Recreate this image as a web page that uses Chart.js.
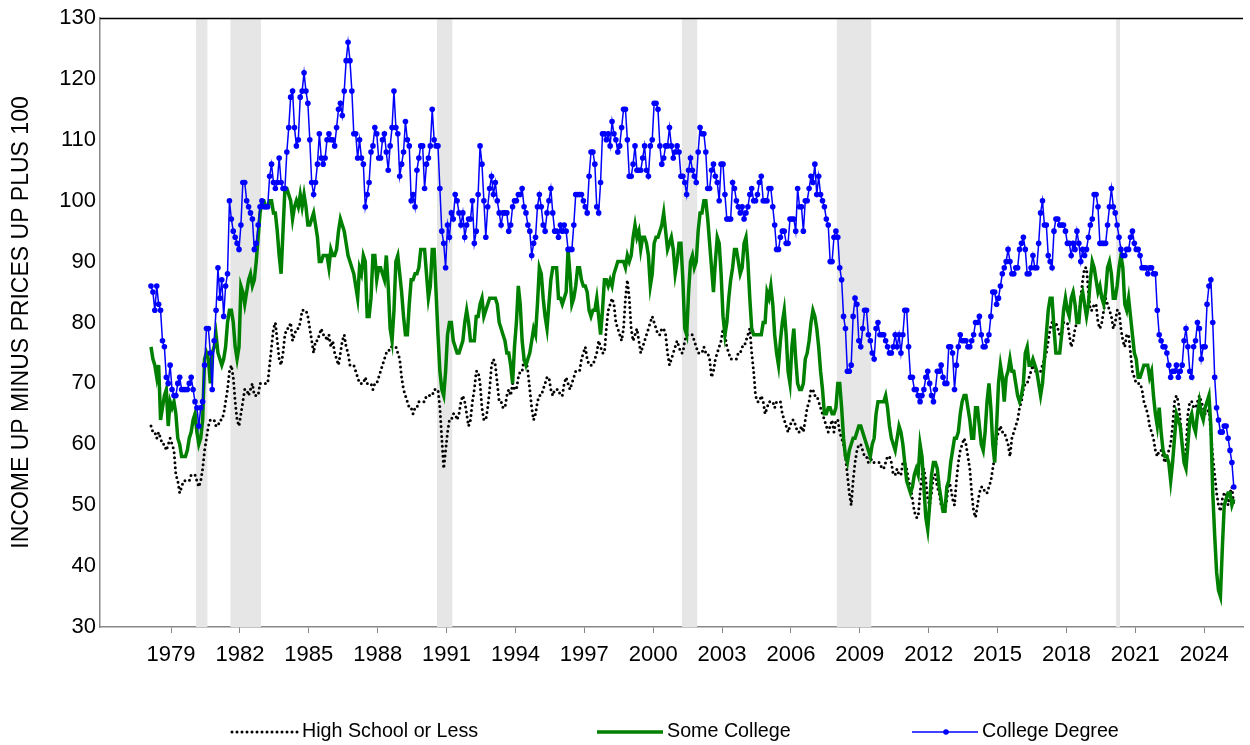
<!DOCTYPE html>
<html>
<head>
<meta charset="utf-8">
<script src="https://cdn.jsdelivr.net/npm/chart.js@4.4.1/dist/chart.umd.min.js"></script>
<style>
  html, body { margin: 0; padding: 0; background: #fff; }
  #wrap { width: 1250px; height: 745px; position: relative; }
</style>
</head>
<body>
<div id="wrap"><canvas id="chart"></canvas></div>
<script>
// monthly readings, one row per year, starting January 1978
const startYear = 1978;

const highSchool = [
  63, 62, 62, 61, 62, 61, 60, 60, 59, 60, 61, 60,
  59, 55, 54, 52, 53, 54, 54, 54, 54, 55, 55, 55,
  54, 53, 54, 56, 59, 61, 63, 64, 64, 64, 63, 63,
  64, 64, 65, 67, 69, 72, 73, 71, 67, 64, 63, 65,
  67, 69, 69, 68, 69, 70, 68, 68, 68, 70, 70, 70,
  70, 70, 73, 76, 79, 80, 77, 74, 73, 75, 78, 79,
  79, 80, 77, 78, 79, 79, 80, 82, 82, 82, 81, 79,
  77, 75, 77, 77, 78, 79, 78, 78, 77, 78, 76, 77,
  75, 74, 73, 75, 77, 78, 76, 75, 73, 73, 73, 72,
  71, 70, 70, 70, 71, 70, 70, 70, 69, 70, 70, 71,
  72, 73, 74, 75, 75, 76, 76, 76, 76, 75, 74, 71,
  69, 68, 67, 66, 66, 65, 66, 66, 67, 67, 67, 67,
  68, 68, 68, 68, 69, 69, 69, 66, 61, 56, 59, 62,
  64, 64, 65, 65, 64, 65, 67, 68, 67, 65, 63, 64,
  67, 69, 72, 72, 70, 66, 64, 64, 66, 69, 73, 74,
  73, 70, 67, 67, 66, 66, 68, 69, 68, 70, 69, 69,
  71, 72, 72, 74, 74, 72, 69, 66, 64, 65, 67, 68,
  68, 69, 70, 71, 71, 69, 68, 69, 69, 69, 68, 68,
  70, 71, 70, 69, 70, 71, 72, 72, 72, 74, 75, 76,
  74, 73, 73, 73, 74, 75, 77, 76, 75, 75, 79, 82,
  83, 84, 83, 80, 79, 78, 77, 79, 84, 87, 84, 79,
  77, 78, 79, 77, 75, 76, 77, 78, 79, 80, 81, 80,
  79, 78, 78, 79, 79, 78, 75, 73, 74, 75, 76, 77,
  76, 75, 75, 77, 78, 78, 78, 78, 77, 76, 75, 75,
  75, 76, 75, 75, 74, 71, 72, 74, 75, 76, 77, 79,
  78, 76, 75, 74, 74, 74, 74, 75, 75, 76, 76, 77,
  78, 79, 75, 72, 68, 67, 67, 68, 67, 65, 66, 67,
  67, 67, 66, 67, 67, 67, 65, 64, 63, 62, 63, 64,
  64, 63, 62, 62, 63, 62, 64, 66, 67, 69, 69, 68,
  68, 67, 66, 65, 64, 63, 62, 63, 64, 62, 64, 64,
  62, 61, 60, 58, 55, 52, 50, 54, 57, 59, 60, 60,
  59, 58, 58, 57, 58, 57, 57, 57, 57, 57, 56, 56,
  57, 58, 58, 57, 55, 55, 56, 55, 55, 57, 57, 56,
  54, 53, 51, 49, 48, 48, 52, 55, 56, 54, 51, 50,
  52, 55, 55, 53, 52, 50, 49, 49, 51, 54, 53, 51,
  50, 54, 57, 59, 60, 61, 60, 58, 56, 52, 49, 48,
  50, 52, 53, 53, 52, 52, 53, 54, 56, 58, 61, 62,
  63, 62, 62, 61, 60, 58, 61, 62, 63, 64, 66, 67,
  69, 70, 70, 71, 72, 73, 72, 72, 72, 72, 73, 74,
  75, 77, 79, 80, 79, 80, 79, 78, 78, 80, 80, 80,
  78, 76, 77, 79, 80, 81, 84, 87, 89, 89, 85, 82,
  82, 83, 83, 80, 79, 80, 82, 84, 83, 82, 81, 79,
  80, 82, 82, 79, 77, 76, 78, 78, 75, 72, 71, 70,
  70, 70, 69, 67, 66, 65, 63, 62, 61, 59, 58, 59,
  59, 58, 57, 58, 59, 60, 63, 67, 68, 67, 64, 60,
  58, 59, 65, 67, 67, 66, 66, 67, 68, 67, 66, 65,
  65, 66, 62, 58, 55, 52, 50, 49, 51, 52, 52, 50,
  52, 53, 50
];

const someCollege = [
  76, 74, 73, 71, 73, 64, 66, 68, 69, 63, 67, 66,
  67, 65, 61, 60, 58, 58, 58, 59, 61, 62, 64, 65,
  62, 60, 61, 64, 74, 75, 74, 70, 75, 76, 78, 75,
  74, 73, 74, 76, 80, 82, 82, 80, 76, 74, 76, 86,
  85, 83, 85, 87, 88, 86, 87, 90, 94, 98, 100, 100,
  99, 99, 100, 100, 98, 98, 95, 91, 88, 95, 102, 102,
  101, 100, 97, 99, 100, 99, 101, 99, 101, 99, 96, 96,
  97, 98, 96, 94, 90, 90, 91, 91, 91, 89, 92, 91,
  91, 92, 95, 97, 96, 95, 93, 91, 90, 89, 88, 86,
  84, 89, 88, 91, 90, 81, 81, 84, 91, 91, 87, 89,
  89, 88, 87, 91, 86, 79, 77, 82, 90, 91, 88, 85,
  81, 78, 78, 83, 87, 87, 88, 88, 89, 92, 92, 92,
  88, 84, 86, 92, 92, 85, 78, 72, 69, 68, 72, 78,
  80, 80, 77, 76, 75, 75, 76, 77, 80, 82, 80, 77,
  77, 77, 81, 81, 83, 84, 81, 82, 83, 84, 84, 84,
  84, 83, 80, 79, 78, 77, 75, 75, 73, 70, 76, 80,
  86, 83, 77, 74, 73, 74, 75, 77, 79, 78, 83, 89,
  88, 84, 81, 79, 83, 87, 89, 89, 89, 84, 84, 83,
  84, 85, 92, 88, 83, 84, 86, 89, 89, 87, 86, 86,
  85, 82, 81, 82, 82, 84, 81, 78, 82, 87, 87, 86,
  87, 86, 88, 89, 90, 90, 90, 90, 89, 91, 90, 91,
  94, 96, 94, 95, 92, 94, 94, 93, 91, 86, 88, 93,
  94, 94, 95, 96, 98, 95, 92, 93, 94, 92, 88, 90,
  93, 93, 87, 79, 78, 85, 90, 91, 89, 90, 95, 98,
  98, 100, 100, 97, 93, 89, 85, 90, 94, 93, 88, 81,
  78, 80, 84, 87, 89, 92, 92, 90, 88, 89, 93, 94,
  90, 84, 79, 78, 78, 78, 78, 78, 80, 80, 85, 84,
  86, 83, 78, 75, 73, 77, 80, 82, 78, 72, 70, 76,
  79, 74, 70, 69, 69, 70, 74, 75, 77, 80, 82, 81,
  79, 76, 72, 69, 65, 65, 66, 66, 65, 65, 66, 70,
  70, 66, 61, 58, 57, 59, 60, 61, 61, 62, 63, 63,
  62, 61, 60, 59, 58, 60, 61, 65, 67, 67, 67, 67,
  68, 66, 63, 61, 60, 59, 61, 63, 62, 60, 57, 54,
  53, 52, 53, 55, 56, 55, 60, 58, 53, 48, 46, 50,
  55, 57, 57, 56, 53, 51, 49, 49, 53, 54, 57, 59,
  61, 61, 62, 65, 67, 68, 68, 66, 64, 61, 61, 66,
  66, 63, 60, 59, 62, 67, 70, 66, 60, 57, 63, 70,
  73, 71, 67, 71, 72, 74, 72, 72, 70, 68, 67, 68,
  70, 75, 76, 73, 73, 74, 73, 72, 70, 68, 70, 74,
  78, 82, 84, 84, 79, 75, 75, 75, 78, 82, 84, 82,
  81, 84, 85, 83, 80, 80, 84, 85, 83, 81, 83, 87,
  90, 89, 87, 85, 86, 84, 83, 85, 89, 90, 88, 84,
  84, 86, 89, 91, 89, 83, 82, 84, 81, 78, 75, 74,
  71, 71, 72, 73, 73, 73, 71, 72, 68, 65, 63, 66,
  62, 59, 58, 58, 57, 54, 57, 61, 65, 64, 63, 60,
  57, 56, 60, 64, 65, 63, 62, 65, 67, 65, 64, 66,
  67, 68, 63, 52, 45, 39, 36, 35, 43, 50, 51, 52,
  52, 50, 51
];

const collegeDegree = [
  86, 85, 82, 86, 83, 82, 77, 76, 71, 70, 73, 69,
  68, 68, 70, 71, 69, 69, 69, 69, 70, 71, 69, 67,
  66, 63, 66, 67, 73, 79, 79, 75, 69, 77, 82, 89,
  84, 87, 81, 86, 88, 100, 97, 95, 94, 93, 92, 96,
  103, 103, 100, 99, 98, 97, 92, 93, 96, 99, 100, 99,
  99, 99, 104, 106, 103, 102, 103, 107, 103, 102, 102, 108,
  112, 117, 118, 112, 109, 110, 117, 118, 121, 118, 116, 110,
  103, 101, 103, 106, 111, 107, 106, 107, 110, 111, 110, 110,
  109, 112, 115, 116, 114, 118, 123, 126, 123, 118, 111, 111,
  107, 110, 107, 106, 99, 101, 103, 108, 109, 112, 111, 107,
  107, 110, 111, 108, 105, 109, 112, 118, 112, 111, 104, 106,
  108, 113, 110, 109, 100, 101, 99, 105, 107, 109, 109, 102,
  106, 107, 109, 115, 110, 109, 109, 102, 95, 93, 89, 96,
  94, 98, 97, 101, 100, 98, 96, 98, 94, 96, 97, 97,
  100, 93, 95, 101, 109, 106, 100, 94, 99, 102, 104, 101,
  103, 100, 98, 96, 98, 98, 98, 95, 96, 99, 100, 100,
  101, 101, 102, 99, 98, 96, 95, 91, 93, 94, 99, 101,
  99, 96, 95, 98, 100, 102, 98, 95, 95, 94, 96, 95,
  96, 95, 92, 92, 92, 96, 101, 101, 101, 101, 100, 99,
  98, 104, 108, 108, 106, 99, 98, 103, 111, 111, 110, 111,
  109, 113, 111, 110, 108, 109, 112, 115, 115, 110, 104, 104,
  106, 109, 105, 105, 105, 107, 109, 105, 104, 109, 110, 116,
  116, 115, 109, 106, 107, 109, 109, 112, 109, 107, 108, 109,
  108, 104, 104, 103, 101, 105, 107, 105, 104, 103, 108, 112,
  111, 111, 108, 102, 102, 105, 106, 104, 103, 100, 106, 106,
  101, 97, 97, 97, 103, 102, 100, 99, 98, 99, 97, 98,
  99, 101, 102, 100, 100, 101, 103, 104, 100, 100, 100, 102,
  102, 99, 96, 92, 92, 94, 95, 95, 93, 93, 97, 97,
  97, 95, 102, 99, 99, 95, 100, 100, 102, 104, 103, 106,
  101, 104, 101, 100, 99, 97, 96, 90, 90, 94, 95, 94,
  89, 87, 81, 79, 72, 72, 73, 81, 84, 83, 77, 76,
  79, 82, 82, 78, 77, 75, 74, 79, 80, 78, 78, 78,
  77, 76, 75, 75, 76, 78, 76, 78, 75, 78, 82, 82,
  76, 71, 71, 69, 69, 68, 67, 68, 69, 71, 72, 70,
  68, 67, 69, 72, 72, 73, 71, 70, 70, 76, 76, 75,
  69, 73, 76, 78, 77, 77, 77, 76, 76, 77, 78, 80,
  80, 81, 78, 76, 76, 77, 78, 81, 85, 85, 83, 84,
  86, 88, 89, 90, 92, 90, 88, 88, 89, 89, 92, 93,
  94, 92, 88, 88, 89, 91, 89, 89, 93, 98, 100, 96,
  96, 91, 90, 89, 95, 97, 97, 96, 96, 96, 95, 93,
  93, 91, 93, 92, 95, 93, 90, 92, 91, 92, 94, 96,
  97, 101, 101, 99, 93, 93, 93, 93, 96, 99, 102, 99,
  98, 96, 94, 92, 91, 91, 92, 92, 94, 95, 93, 92,
  92, 91, 89, 89, 89, 88, 89, 89, 88, 88, 82, 78,
  77, 76, 76, 75, 73, 71, 72, 72, 73, 71, 72, 73,
  77, 79, 76, 72, 71, 76, 77, 80, 79, 74, 76, 76,
  83, 86, 87, 80, 71, 66, 64, 62, 62, 63, 63, 61,
  59, 57, 53
];

const tickYears = ['1979', '1982', '1985', '1988', '1991', '1994', '1997', '2000',
  '2003', '2006', '2009', '2012', '2015', '2018', '2021', '2024'];

// shaded recession periods, first and last month
const recessions = [
  ['1980-01', '1980-07'],
  ['1981-07', '1982-11'],
  ['1990-07', '1991-03'],
  ['2001-03', '2001-11'],
  ['2007-12', '2009-06'],
  ['2020-02', '2020-04']
];

function monthIndex(s) {
  const [y, m] = s.split('-').map(Number);
  return (y - startYear) * 12 + (m - 1);
}

const FONT = 'Arial, "Liberation Sans", sans-serif';
const toPoints = arr => arr.map((v, i) => ({ x: i, y: v }));

const recessionShading = {
  id: 'recessionShading',
  beforeDatasetsDraw(chart) {
    const { ctx, chartArea } = chart;
    const xs = chart.scales.x;
    ctx.save();
    ctx.fillStyle = '#e6e6e6';
    recessions.forEach(([a, b]) => {
      const x1 = xs.getPixelForValue(monthIndex(a) - 0.5);
      const x2 = xs.getPixelForValue(monthIndex(b) - 0.5);
      ctx.fillRect(x1, chartArea.top, x2 - x1, chartArea.bottom - chartArea.top);
    });
    ctx.restore();
  }
};

const frameAndLegend = {
  id: 'frameAndLegend',
  afterDraw(chart) {
    const { ctx, chartArea } = chart;
    ctx.save();
    // top border of the plot
    ctx.strokeStyle = '#000';
    ctx.lineWidth = 1.5;
    ctx.beginPath();
    ctx.moveTo(chartArea.left, chartArea.top + 0.5);
    ctx.lineTo(chartArea.right, chartArea.top + 0.5);
    ctx.stroke();

    // legend along the bottom
    const y = 732;
    const starts = [232, 597, 912];
    ctx.font = '19.7px ' + FONT;
    ctx.textBaseline = 'middle';
    ctx.fillStyle = '#000';
    chart.data.datasets.forEach((ds, i) => {
      const x0 = starts[i];
      ctx.beginPath();
      ctx.strokeStyle = ds.borderColor;
      ctx.lineWidth = ds.borderWidth;
      ctx.lineCap = ds.borderCapStyle || 'butt';
      ctx.setLineDash(ds.borderDash || []);
      ctx.moveTo(x0, y);
      ctx.lineTo(x0 + 66, y);
      ctx.stroke();
      ctx.setLineDash([]);
      if (ds.pointRadius) {
        ctx.beginPath();
        ctx.fillStyle = ds.pointBackgroundColor;
        ctx.arc(x0 + 34, y, ds.pointRadius, 0, Math.PI * 2);
        ctx.fill();
      }
      ctx.fillStyle = '#000';
      ctx.fillText(ds.label, x0 + 70, y);
    });
    ctx.restore();
  }
};

new Chart(document.getElementById('chart'), {
  type: 'line',
  data: {
    datasets: [
      {
        label: 'High School or Less',
        data: toPoints(highSchool),
        borderColor: '#000000',
        borderWidth: 3,
        borderDash: [0, 5],
        borderCapStyle: 'round',
        pointRadius: 0,
        tension: 0,
        order: 3
      },
      {
        label: 'Some College',
        data: toPoints(someCollege),
        borderColor: '#008000',
        borderWidth: 3.5,
        pointRadius: 0,
        tension: 0,
        order: 2
      },
      {
        label: 'College Degree',
        data: toPoints(collegeDegree),
        borderColor: '#0000ff',
        borderWidth: 1.5,
        pointRadius: 2.8,
        pointBackgroundColor: '#0000ff',
        pointBorderWidth: 0,
        tension: 0,
        order: 1
      }
    ]
  },
  options: {
    responsive: true,
    maintainAspectRatio: false,
    devicePixelRatio: 1,
    animation: false,
    events: [],
    layout: { padding: { top: 18, right: 7, left: 0, bottom: 0 } },
    plugins: {
      legend: { display: false },
      tooltip: { enabled: false }
    },
    scales: {
      x: {
        type: 'linear',
        min: -26.66,
        max: 570.8,
        afterBuildTicks(scale) {
          scale.ticks = tickYears.map((t, i) => ({ value: 10.5 + i * 36 }));
        },
        afterFit(scale) { scale.height = 118; },
        ticks: {
          autoSkip: false,
          maxRotation: 0,
          color: '#000',
          padding: 9,
          font: { family: FONT, size: 22 },
          callback: (v, i) => tickYears[i]
        },
        grid: { drawOnChartArea: false, drawTicks: true, tickLength: 6, color: '#888' },
        border: { color: '#888', width: 1.5 }
      },
      y: {
        min: 30,
        max: 130,
        afterFit(scale) { scale.width = 100; },
        ticks: {
          stepSize: 10,
          color: '#000',
          padding: 4,
          font: { family: FONT, size: 22 }
        },
        grid: { drawOnChartArea: false, drawTicks: false },
        border: { color: '#888', width: 1.5 },
        title: {
          display: true,
          text: 'INCOME UP MINUS PRICES UP PLUS 100',
          color: '#000',
          padding: { top: 8, bottom: 0 },
          font: { family: FONT, size: 23 }
        }
      }
    }
  },
  plugins: [recessionShading, frameAndLegend]
});
</script>
</body>
</html>
